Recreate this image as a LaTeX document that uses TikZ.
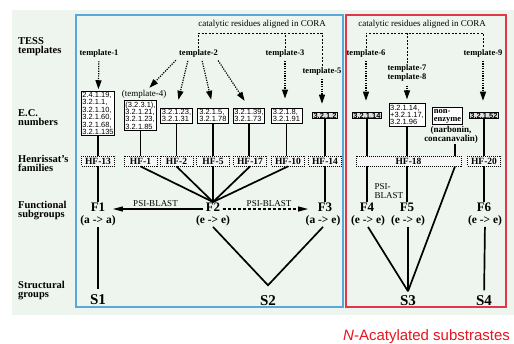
\documentclass[tikz,border=0pt]{standalone}
\usepackage{fontspec}
\setmainfont{Liberation Serif}
\newfontfamily\ecfont{Liberation Sans}
\usetikzlibrary{arrows.meta}
\definecolor{bgmint}{HTML}{EEF5EE}
\definecolor{boxblue}{HTML}{5AA8DA}
\definecolor{boxred}{HTML}{E0384A}
\definecolor{titlered}{HTML}{E8141E}

\begin{document}
\begin{tikzpicture}[x=1pt,y=-1pt,
        rowlabel/.style = {anchor=west, align=left, inner sep=1pt,
            font=\fontsize{10.5}{9}\selectfont\bfseries},
        tmpl/.style = {align=center, inner sep=1pt,
            font=\fontsize{8.5}{9}\selectfont\bfseries},
        note/.style = {align=center, inner sep=0.5pt, font=\fontsize{9}{8.5}\selectfont},
        ecbox/.style = {draw, line width=0.8pt, fill=white, align=left,
            inner sep=1.2pt, minimum width=31pt,
            font=\fontsize{7.5}{7.4}\selectfont\ecfont},
        econe/.style = {ecbox, fill=black!12, inner sep=0.7pt, minimum width=0pt,
            font=\fontsize{7.5}{7.4}\selectfont\ecfont\bfseries},
        hfbox/.style = {draw, line width=0.8pt, dash pattern=on 1pt off 1pt,
            fill=black!4, inner sep=1pt, minimum width=33pt, minimum height=10pt,
            font=\fontsize{9.5}{10}\selectfont\bfseries},
        fnode/.style = {inner sep=0.5pt, font=\fontsize{13}{13}\selectfont\bfseries},
        fsub/.style = {inner sep=0.5pt, font=\fontsize{11.5}{12}\selectfont\bfseries},
        snode/.style = {inner sep=0.5pt, font=\fontsize{15}{15}\selectfont\bfseries},
        tie/.style = {line width=1.7pt},
        hint/.style = {line width=1.2pt, dash pattern=on 1.2pt off 1.2pt,
            -{Triangle[length=9pt,width=6pt]}, shorten <=3pt},
        bracket/.style = {line width=0.8pt, dash pattern=on 2pt off 1.6pt},
        psi/.style = {line width=1.1pt, -{Triangle[length=10pt,width=5pt]},
            shorten >=7pt, shorten <=2pt},
        psidash/.style = {psi, dash pattern=on 3pt off 2pt, shorten >=9pt}]

    \useasboundingbox (0,0) rectangle (514,343);
    \fill[bgmint] (12,10) rectangle (514,315);
    \draw[boxblue, line width=1.3pt] (76,15) rectangle (343,307);
    \draw[boxred, line width=1.3pt] (346,15) rectangle (506,307);

    % row labels
    \node[rowlabel] (rowtess) at (17,46.5) {TESS\\templates};
    \node[rowlabel] (rowec) at (17,118) {E.C.\\numbers};
    \node[rowlabel] (rowhf) at (17,163) {Henrissat's\\families};
    \node[rowlabel] (rowfunc) at (17,211) {Functional\\subgroups};
    \node[rowlabel] (rowstruct) at (17,290.5) {Structural\\groups};

    % templates
    \node[note] (coraA) at (262,24) {catalytic residues aligned in CORA};
    \node[note] (coraB) at (422,24) {catalytic residues aligned in CORA};
    \coordinate (brace) at (0,33);
    \node[tmpl] (t1) at (99,53) {template-1};
    \node[tmpl] (t2) at (198.5,53) {template-2};
    \node[tmpl] (t3) at (285,53) {template-3};
    \node[tmpl] (t5) at (322,71) {template-5};
    \node[note] (t4) at (144,94) {(template-4)};
    \node[tmpl] (t6) at (366,53) {template-6};
    \node[tmpl] (t78) at (407,73) {template-7\\template-8};
    \node[tmpl] (t9) at (483,53) {template-9};
    \draw[bracket] (t2.north) -- (t2.north |- brace) -| (t5.north);
    \draw[bracket] (t3.north) -- (t3.north |- brace);
    \draw[bracket] (t6.north) -- (t6.north |- brace) -| (t9.north);
    \draw[bracket] (t78.north) -- (t78.north |- brace);

    % E.C. numbers
    \node[ecbox] (ec1) at (98,113.5) {2.4.1.19,\\3.2.1.1,\\3.2.1.10,\\3.2.1.60,\\3.2.1.68,\\3.2.1.135};
    \node[ecbox] (ec2) at (140.5,115.5) {(3.2.3.1),\\3.2.1.21,\\3.2.1.23,\\3.2.1.85};
    \node[ecbox] (ec3) at (176.5,115.5) {3.2.1.23,\\3.2.1.31};
    \node[ecbox] (ec4) at (213,115.5) {3.2.1.5,\\3.2.1.78};
    \node[ecbox] (ec5) at (249,115.5) {3.2.1.39,\\3.2.1.73};
    \node[ecbox] (ec6) at (286.5,115.5) {3.2.1.8,\\3.2.1.91};
    \node[econe] (ec7) at (325,115.5) {3.2.1.2};
    \node[econe] (ec8) at (367,115.5) {3.2.1.14};
    \node[ecbox] (ec9) at (407,115) {3.2.1.14,\\+3.2.1.17,\\3.2.1.96};
    \node[ecbox, minimum width=0pt, font=\fontsize{8.5}{8}\selectfont\bfseries] (enz) at (447.5,116) {non-\\enzyme};
    \node[note, font=\fontsize{9}{8.5}\selectfont\bfseries] (narb) at (451,135) {(narbonin,\\concanavalin)};
    \node[econe] (ec10) at (484,115.5) {3.2.1.52};

    \draw[hint, shorten >=1.5pt] (t1) -- (ec1);
    \draw[hint, shorten >=2pt] (t2.south west) -- ([xshift=4pt]t4.north);
    \draw[hint, shorten >=8pt] ([xshift=-10pt]t2.south) -- (ec3.north);
    \draw[hint, shorten >=8pt] ([xshift=3pt]t2.south) -- (ec4.north);
    \draw[hint, shorten >=8pt] ([xshift=18pt]t2.south) -- (ec5.north);
    \draw[hint, shorten >=9pt] (t3.south) -- (t3.south |- ec6.north);
    \draw[hint, shorten >=8pt] (t5.south) -- (t5.south |- ec7.north);
    \draw[hint, shorten >=11pt] (t6.south) -- (t6.south |- ec8.north);
    \draw[hint, shorten >=4pt] (t78.south) -- (ec9.north);
    \draw[hint, shorten >=11pt] (t9.south) -- (t9.south |- ec10.north);

    % Henrissat's families
    \node[hfbox] (hf13) at (98,161) {HF-13};
    \node[hfbox] (hf1) at (140.5,161) {HF-1};
    \node[hfbox] (hf2) at (176.5,161) {HF-2};
    \node[hfbox] (hf5) at (213,161) {HF-5};
    \node[hfbox] (hf17) at (250,161) {HF-17};
    \node[hfbox] (hf10) at (288,161) {HF-10};
    \node[hfbox] (hf14) at (325,161) {HF-14};
    \node[hfbox, minimum width=105pt] (hf18) at (408.5,161) {HF-18};
    \node[hfbox] (hf20) at (484,161) {HF-20};

    \draw[tie] (ec1) -- (hf13);
    \draw[tie] (ec2) -- (hf1);
    \draw[tie] (ec3) -- (hf2);
    \draw[tie] (ec4) -- (hf5);
    \draw[tie] (ec5.south) -- (ec5.south |- hf17.north);
    \draw[tie] (ec6.south) -- (ec6.south |- hf10.north);
    \draw[tie] (ec7) -- (hf14);
    \draw[tie] (ec8.south) -- (ec8.south |- hf18.north);
    \draw[tie] (ec9.south) -- (ec9.south |- hf18.north);
    \coordinate (narbdrop) at ([xshift=4pt]narb.south);
    \draw[tie] (narbdrop) -- (narbdrop |- hf18.north);
    \draw[tie] (ec10) -- (hf20);

    % functional subgroups
    \node[fnode] (F1) at (98,207) {F1};
    \node[fsub] (f1sub) at (98,221) {(a -> a)};
    \node[fnode] (F2) at (213,207) {F2};
    \node[fsub] (f2sub) at (213,221) {(e -> e)};
    \node[fnode] (F3) at (325,207) {F3};
    \node[fsub] (f3sub) at (323,221) {(a -> e)};
    \node[fnode] (F4) at (367,207) {F4};
    \node[fsub] (f4sub) at (368,221) {(e -> e)};
    \node[fnode] (F5) at (407,207) {F5};
    \node[fsub] (f5sub) at (408,221) {(e -> e)};
    \node[fnode] (F6) at (484,207) {F6};
    \node[fsub] (f6sub) at (485,221) {(e -> e)};
    \node[note, anchor=west, align=left] (psired) at (374,191) {PSI-\\BLAST};

    \draw[tie] (hf13) -- (F1);
    \foreach \hf in {hf1,hf2,hf5,hf17,hf10}
        \draw[tie] (\hf.south) -- (F2.north);
    \draw[tie] (hf14) -- (F3);
    \draw[tie] (hf18.south -| F4) -- (F4.north);
    \draw[tie] (hf18.south -| F5) -- (F5.north);
    \draw[tie] (hf20) -- (F6);

    \draw[psi] ([yshift=-2pt]F2.west) -- ([yshift=-2pt]F1.east)
        node[midway, above=1.5pt, note] (psiA) {PSI-BLAST};
    \draw[psidash] ([yshift=-2pt]F2.east) -- ([yshift=-2pt]F3.west)
        node[midway, above=1.5pt, note] (psiB) {PSI-BLAST};

    % structural groups
    \node[snode] (S1) at (98,300) {S1};
    \node[snode] (S2) at (268,301) {S2};
    \node[snode] (S3) at (408,301) {S3};
    \node[snode] (S4) at (484,301) {S4};
    \coordinate (s2tip) at ([yshift=10pt]S2.north);
    \coordinate (s3tip) at ([yshift=4pt]S3.north);

    \draw[tie, shorten >=5pt] (f1sub) -- (S1);
    \draw[tie] (f2sub.south) -- (s2tip) -- (f3sub.south);
    \draw[tie] (f4sub.south) -- (s3tip);
    \draw[tie] (f5sub.south) -- (s3tip);
    \draw[tie] (narbdrop |- hf18.south) -- (s3tip);
    \draw[tie, shorten >=5pt] (f6sub) -- (S4);

    \node[anchor=west, inner sep=0pt, text=titlered,
        font=\fontsize{15}{15}\selectfont\ecfont] (caption) at (343,337)
        {\textit{N}-Acatylated substrastes};
\end{tikzpicture}
\end{document}
